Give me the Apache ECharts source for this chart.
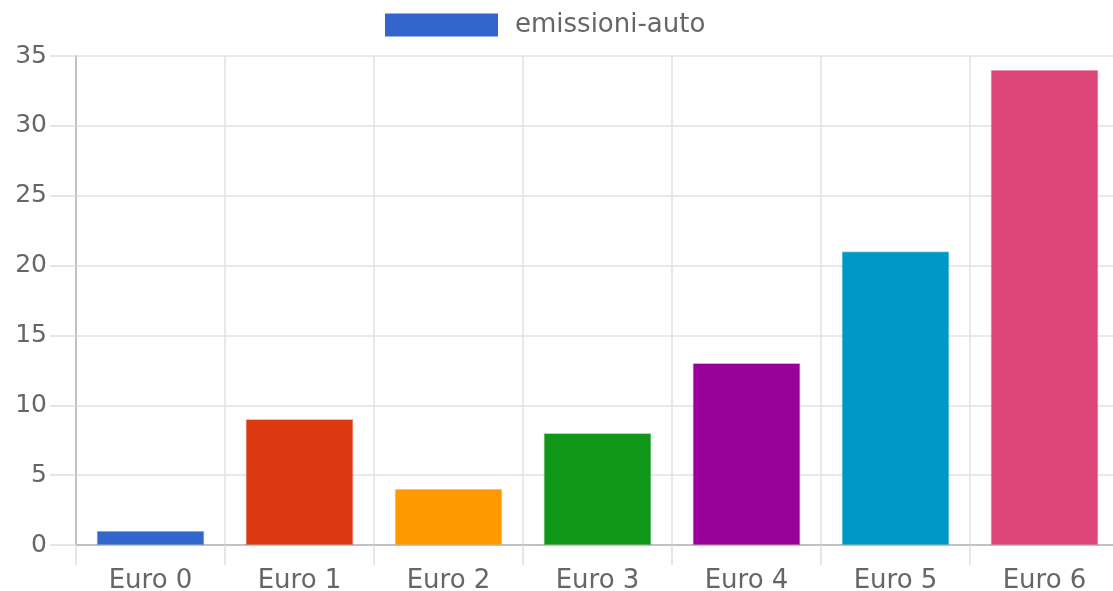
<!DOCTYPE html>
<html>
<head>
<meta charset="utf-8">
<script src="https://cdn.jsdelivr.net/npm/echarts@6/dist/echarts.min.js"></script>
<style>html,body{margin:0;padding:0;background:#fff}#c{width:1113px;height:591px}</style>
</head>
<body>
<div id="c"></div>
<script>
const categories = ['Euro 0', 'Euro 1', 'Euro 2', 'Euro 3', 'Euro 4', 'Euro 5', 'Euro 6'];
const values = [1, 9, 4, 8, 13, 21, 34];
const barColors = ['#3366CC', '#DC3912', '#FF9900', '#109618', '#990099', '#0099C6', '#DD4477'];
const seriesName = 'emissioni-auto';
const yTicks = { min: 0, max: 35, interval: 5 };

function fade(hex, a) {
  const n = parseInt(hex.slice(1), 16);
  return 'rgba(' + (n >> 16) + ',' + ((n >> 8) & 255) + ',' + (n & 255) + ',' + a + ')';
}

const font = 'DejaVu Sans';
const chart = echarts.init(document.getElementById('c'), null, { renderer: 'canvas' });
chart.setOption({
  animation: false,
  backgroundColor: '#fff',
  legend: {
    left: 380, top: 7,
    itemWidth: 113, itemHeight: 23,
    icon: 'rect',
    textStyle: { fontFamily: font, fontSize: 26, color: '#666', padding: [0, 0, 0, 12] },
    data: [seriesName]
  },
  grid: { left: 76, top: 56, bottom: 46, width: 1043, containLabel: false, outerBoundsMode: 'none' },
  xAxis: {
    type: 'category',
    data: categories,
    boundaryGap: true,
    axisLine: { show: true, lineStyle: { color: '#b4b4b4', width: 1.5 } },
    axisTick: { show: true, length: 20, lineStyle: { color: '#dedede', width: 1.5 } },
    splitLine: { show: true, lineStyle: { color: '#e2e2e2', width: 1.5 } },
    axisLabel: { fontFamily: font, fontSize: 26, color: '#666', margin: 23 }
  },
  yAxis: {
    type: 'value',
    min: yTicks.min, max: yTicks.max, interval: yTicks.interval,
    axisLine: { show: true, lineStyle: { color: '#b4b4b4', width: 1.5 } },
    axisTick: { show: true, length: 26, lineStyle: { color: '#dedede', width: 1.5 } },
    splitLine: { show: true, lineStyle: { color: '#e2e2e2', width: 1.5 } },
    axisLabel: { fontFamily: font, fontSize: 25, color: '#666', margin: 29 }
  },
  series: [{
    name: seriesName,
    type: 'bar',
    barWidth: '72%',
    itemStyle: { color: barColors[0] },
    data: values.map((v, i) => ({
      value: v,
      itemStyle: { color: barColors[i], borderColor: fade(barColors[i], 0.45), borderWidth: 1.5 }
    }))
  }]
});
</script>
</body>
</html>
